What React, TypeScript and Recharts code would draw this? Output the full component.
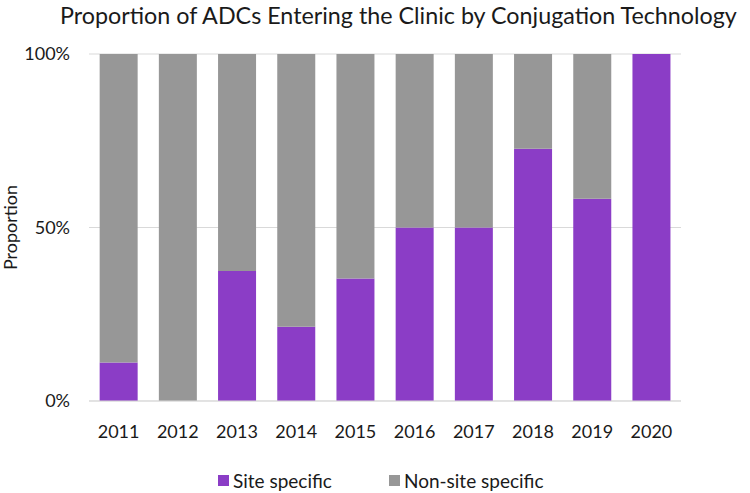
import React from "react";
import { Bar, BarChart, CartesianGrid, XAxis, YAxis } from "recharts";

const years = ["2011", "2012", "2013", "2014", "2015", "2016", "2017", "2018", "2019", "2020"];
const siteSpecific = [11.1, 0, 37.5, 21.4, 35.3, 50, 50, 72.7, 58.3, 100];
const nonSiteSpecific = [88.9, 100, 62.5, 78.6, 64.7, 50, 50, 27.3, 41.7, 0];
const yTicks = [0, 50, 100];

const PURPLE = "#8b3dc6";
const GRAY = "#979797";
const FONT = "Lato, 'Open Sans', sans-serif";

const data = years.map((year, i) => ({
  year,
  site: siteSpecific[i],
  nonSite: nonSiteSpecific[i],
}));

const tickStyle = { fontFamily: FONT, fontSize: 18, fill: "#1a1a1a" };

export default function App() {
  return (
    <div style={{ position: "absolute", left: 0, top: 0, width: 750, height: 493, background: "#fff", fontFamily: FONT }}>
      <div
        style={{
          position: "absolute",
          left: 60,
          top: 1,
          fontSize: 23.3,
          color: "#1a1a1a",
          whiteSpace: "nowrap",
        }}
      >
        Proportion of ADCs Entering the Clinic by Conjugation Technology
      </div>
      <BarChart
        width={750}
        height={493}
        data={data}
        margin={{ top: 54, right: 69, bottom: 52, left: 0 }}
        barCategoryGap="18%"
      >
        <CartesianGrid stroke="#d9d9d9" vertical={false} />
        <XAxis
          dataKey="year"
          height={40}
          tickLine={false}
          tickSize={0}
          tickMargin={24}
          axisLine={{ stroke: "#d9d9d9" }}
          tick={tickStyle}
        />
        <YAxis
          width={89}
          domain={[0, 100]}
          ticks={yTicks}
          tickFormatter={(v: number) => `${v}%`}
          tickLine={false}
          tickSize={0}
          tickMargin={19}
          axisLine={false}
          tick={tickStyle}
          label={{
            value: "Proportion",
            angle: -90,
            position: "insideLeft",
            offset: 11,
            style: { textAnchor: "middle", fontFamily: FONT, fontSize: 18, fill: "#1a1a1a" },
          }}
        />
        <Bar dataKey="site" stackId="a" fill={PURPLE} isAnimationActive={false} />
        <Bar dataKey="nonSite" stackId="a" fill={GRAY} isAnimationActive={false} />
      </BarChart>
      <div
        style={{
          position: "absolute",
          left: 218,
          top: 469,
          display: "flex",
          alignItems: "center",
          fontSize: 19,
          color: "#1a1a1a",
          whiteSpace: "nowrap",
        }}
      >
        <span style={{ width: 11, height: 11, background: PURPLE, display: "inline-block", marginRight: 4 }} />
        <span style={{ marginRight: 57 }}>Site specific</span>
        <span style={{ width: 11, height: 11, background: GRAY, display: "inline-block", marginRight: 4 }} />
        <span>Non-site specific</span>
      </div>
    </div>
  );
}
